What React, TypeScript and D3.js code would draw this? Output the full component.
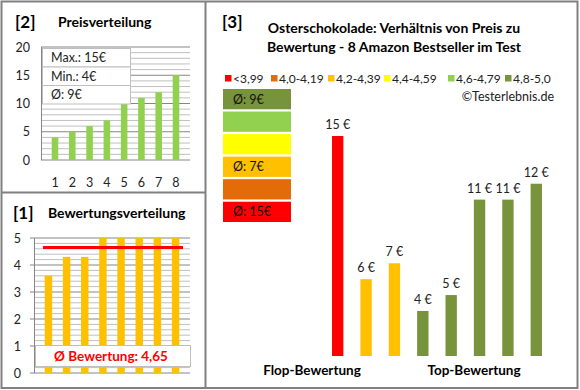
import React from 'react';
import * as d3 from 'd3';

// panel [2] Preisverteilung
const priceIdx = ['1', '2', '3', '4', '5', '6', '7', '8'];
const prices = [4, 5, 6, 7, 10, 11, 12, 15];
const priceTicks = [0, 5, 10, 15, 20];
const priceInfo = ['Max.: 15€', 'Min.: 4€', 'Ø: 9€'];

// panel [1] Bewertungsverteilung
const ratings = [3.6, 4.3, 4.3, 5, 5, 5, 5, 5];
const ratingTicks = [0, 1, 2, 3, 4, 5];
const avgRating = 4.65;

// panel [3] Preis vs. Bewertung
const legendLabels = ['<3,99', '4,0-4,19', '4,2-4,39', '4,4-4,59', '4,6-4,79', '4,8-5,0'];
const legendColors = ['#FF0000', '#E36C09', '#FFC000', '#FFFF00', '#92D050', '#77933C'];
const groupAvgLabels = ['Ø: 15€', '', 'Ø: 7€', '', '', 'Ø: 9€'];
const testRatings = [3.6, 4.3, 4.3, 5, 5, 5, 5, 5];
const testPrices = [15, 6, 7, 4, 5, 11, 11, 12];

const FONT = 'Lato, Carlito, sans-serif';
const BORDER = '#808080';
const MAJOR = '#868686';
const MINOR = '#BFBFBF';

const ratingGroup = (r: number) =>
  r < 4 ? 0 : r < 4.2 ? 1 : r < 4.4 ? 2 : r < 4.6 ? 3 : r < 4.8 ? 4 : 5;

export default function App() {
  // [2]
  const x2 = d3.scaleBand().domain(priceIdx).range([41, 190]).padding(0.62);
  const y2 = d3.scaleLinear().domain([0, 20]).range([160, 47]);
  const minor2 = d3.range(1, 21).filter(v => v % 5 !== 0);

  // [1]
  const x1 = d3.scaleBand().domain(priceIdx).range([34, 190]).padding(0.59);
  const y1 = d3.scaleLinear().domain([0, 5]).range([373, 238]);
  const minor1 = d3.range(1, 26).map(v => v * 0.2).filter(v => Math.abs(v - Math.round(v)) > 0.01);

  // [3]
  const x3 = d3.scaleBand().domain(priceIdx).range([315, 559]).padding(0.6);
  const y3 = d3.scaleLinear().domain([1.17, 15]).range([356, 136]);
  const legendX = [225, 271, 328, 384, 448, 505];
  const boxY = d3.scaleBand().domain(d3.range(6).map(String)).range([222, 89]).paddingInner(0.1);

  return (
    <svg width={580} height={390} style={{ position: 'absolute', left: 0, top: 0, fontFamily: FONT }}>
      <rect x={0} y={0} width={580} height={390} fill="#fff" />

      {/* frame */}
      <rect x={1.5} y={1.5} width={576} height={386.5} fill="none" stroke={BORDER} strokeWidth={2} />
      <line x1={205.5} y1={1} x2={205.5} y2={389} stroke={BORDER} strokeWidth={2} />
      <line x1={1} y1={192.5} x2={205} y2={192.5} stroke={BORDER} strokeWidth={2} />

      {/* [2] Preisverteilung */}
      <text x={15} y={28} fontSize={17} fontWeight="bold">[2]</text>
      <text x={58} y={27} fontSize={14} fontWeight="bold">Preisverteilung</text>
      {minor2.map(v => (
        <line key={v} x1={41} x2={190} y1={y2(v)} y2={y2(v)} stroke={MINOR} />
      ))}
      {priceTicks.map(v => (
        <g key={v}>
          <line x1={41} x2={190} y1={y2(v)} y2={y2(v)} stroke={MAJOR} />
          <text x={30} y={y2(v) + 4.5} fontSize={12.5} textAnchor="end" fill="#222">{v}</text>
        </g>
      ))}
      <line x1={41.5} x2={41.5} y1={47} y2={160} stroke={MAJOR} />
      {prices.map((v, i) => (
        <rect key={i} x={x2(priceIdx[i])} y={y2(v)} width={x2.bandwidth()} height={y2(0) - y2(v)} fill="#92D050" />
      ))}
      {priceIdx.map(c => (
        <text key={c} x={(x2(c) ?? 0) + x2.bandwidth() / 2} y={187} fontSize={12.5} textAnchor="middle" fill="#222">{c}</text>
      ))}
      {priceInfo.map((t, i) => (
        <g key={t}>
          <rect x={42.5} y={48.5 + i * 18.5} width={88} height={18.5} fill="#fff" stroke={MINOR} />
          <text x={51} y={62 + i * 18.5} fontSize={12.5} fill="#222">{t}</text>
        </g>
      ))}

      {/* [1] Bewertungsverteilung */}
      <text x={13} y={219} fontSize={17} fontWeight="bold">[1]</text>
      <text x={48} y={218} fontSize={14} fontWeight="bold">Bewertungsverteilung</text>
      {minor1.map(v => (
        <line key={v} x1={34} x2={190} y1={y1(v)} y2={y1(v)} stroke={MINOR} />
      ))}
      {ratingTicks.map(v => (
        <g key={v}>
          <line x1={30} x2={190} y1={y1(v)} y2={y1(v)} stroke={MAJOR} />
          <text x={21} y={y1(v) + 4.5} fontSize={12.5} textAnchor="end" fill="#222">{v}</text>
        </g>
      ))}
      <line x1={34.5} x2={34.5} y1={238} y2={373} stroke={MAJOR} />
      {ratings.map((v, i) => (
        <rect key={i} x={x1(priceIdx[i])} y={y1(v)} width={x1.bandwidth()} height={y1(0) - y1(v)} fill="#FFC000" />
      ))}
      <line x1={43} x2={183} y1={y1(avgRating)} y2={y1(avgRating)} stroke="#FF0000" strokeWidth={3} />
      <rect x={35.5} y={345.5} width={155} height={21} fill="#fff" stroke={MINOR} />
      <text x={111} y={361} fontSize={13.5} fontWeight="bold" fill="#FF0000" textAnchor="middle">
        Ø Bewertung: 4,65
      </text>

      {/* [3] Verhältnis Preis / Bewertung */}
      <text x={222} y={28} fontSize={17} fontWeight="bold">[3]</text>
      <text x={394} y={33} fontSize={14} fontWeight="bold" textAnchor="middle">
        Osterschokolade: Verhältnis von Preis zu
      </text>
      <text x={394} y={52} fontSize={14} fontWeight="bold" textAnchor="middle">
        Bewertung - 8 Amazon Bestseller im Test
      </text>
      {legendLabels.map((l, i) => (
        <g key={l}>
          <rect x={legendX[i]} y={75} width={6.5} height={6.5} fill={legendColors[i]} />
          <text x={legendX[i] + 8} y={82.5} fontSize={12} fill="#222">{l}</text>
        </g>
      ))}
      <text x={554} y={101} fontSize={12.5} textAnchor="end" fill="#222">©Testerlebnis.de</text>
      {legendColors.map((c, i) => (
        <g key={c}>
          <rect x={223} y={boxY(String(i))} width={68} height={boxY.bandwidth()} fill={c} />
          {groupAvgLabels[i] && (
            <text x={233} y={(boxY(String(i)) ?? 0) + boxY.bandwidth() / 2 + 4.5} fontSize={12.5} fill="#111">
              {groupAvgLabels[i]}
            </text>
          )}
        </g>
      ))}
      {testPrices.map((v, i) => {
        const x = x3(priceIdx[i]) ?? 0;
        return (
          <g key={i}>
            <rect x={x} y={y3(v)} width={x3.bandwidth()} height={y3.range()[0] - y3(v)}
              fill={legendColors[ratingGroup(testRatings[i])]} />
            <text x={x + x3.bandwidth() / 2} y={y3(v) - 7} fontSize={12.5} textAnchor="middle" fill="#222">
              {v} €
            </text>
          </g>
        );
      })}
      <text x={312} y={375} fontSize={13.5} fontWeight="bold" textAnchor="middle">Flop-Bewertung</text>
      <text x={474} y={375} fontSize={13.5} fontWeight="bold" textAnchor="middle">Top-Bewertung</text>
    </svg>
  );
}
